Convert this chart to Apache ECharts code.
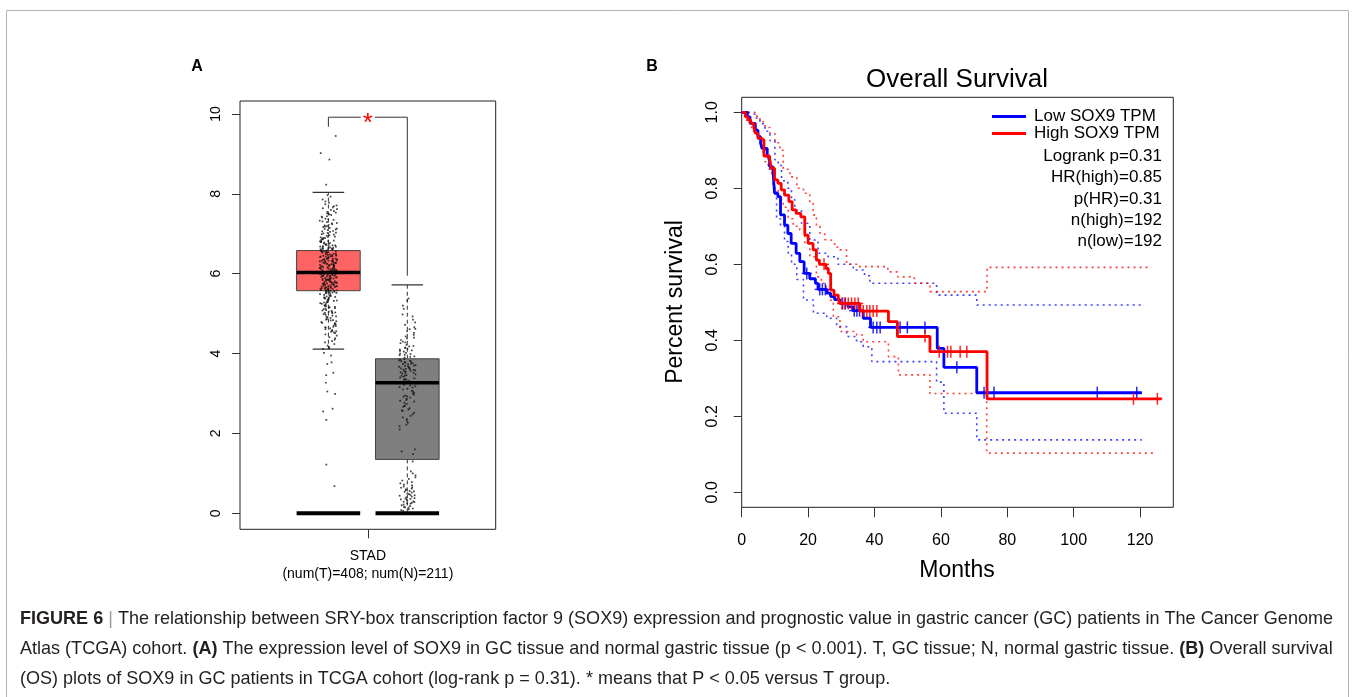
<!DOCTYPE html>
<html>
<head>
<meta charset="utf-8">
<script src="https://cdn.jsdelivr.net/npm/echarts@6/dist/echarts.min.js"></script>
<style>
  html, body { margin: 0; padding: 0; background: #fff; }
  #main { width: 1355px; height: 697px; }
</style>
</head>
<body>
<div id="main"></div>
<script>
// ---- panel A: SOX9 expression (log2(TPM+1)) ----
var groupNames = ['Tumor', 'Normal'];
var groupLabel = 'STAD\n(num(T)=408; num(N)=211)';
// low whisker, Q1, median, Q3, high whisker
var boxStats = [
  [4.11, 5.575, 6.03, 6.58, 8.04],
  [0.02, 1.35, 3.27, 3.87, 5.72]
];
var zeroLevel = [0, 0];
// left foot, bar height, right foot of the significance bracket
var bracket = [9.68, 9.92, 5.95];
var yTicksA = [0, 2, 4, 6, 8, 10];

var tumorValues = [
  9.45, 9.02, 8.86, 8.23,
  7.97, 7.93, 7.86, 7.81, 7.78, 7.71, 7.69, 7.64, 7.62, 7.57, 7.55, 7.53, 7.51, 7.6, 7.74, 7.66,
  7.49, 7.47, 7.44, 7.41, 7.38, 7.36, 7.33, 7.31, 7.29, 7.27, 7.24, 7.21, 7.19, 7.17, 7.15, 7.13,
  7.11, 7.09, 7.07, 7.05, 7.03, 7.02, 7.01, 7.26, 7.35, 7.12, 7.22, 7.06, 7.43, 7.18,
  6.99, 6.98, 6.96, 6.95, 6.93, 6.92, 6.90, 6.89, 6.87, 6.86, 6.84, 6.83, 6.81, 6.80, 6.79, 6.77,
  6.76, 6.74, 6.73, 6.72, 6.70, 6.69, 6.68, 6.67, 6.66, 6.64, 6.63, 6.62, 6.61, 6.60, 6.59, 6.58,
  6.57, 6.56, 6.55, 6.54, 6.53, 6.52, 6.51, 6.50, 6.88, 6.75, 6.71, 6.65, 6.62, 6.57, 6.53, 6.91,
  6.82, 6.78, 6.68, 6.59, 6.55, 6.64, 6.71,
  6.49, 6.48, 6.47, 6.46, 6.45, 6.44, 6.43, 6.42, 6.41, 6.40, 6.39, 6.38, 6.37, 6.36, 6.35, 6.34,
  6.33, 6.32, 6.31, 6.30, 6.29, 6.28, 6.27, 6.26, 6.25, 6.24, 6.23, 6.22, 6.21, 6.20, 6.19, 6.18,
  6.17, 6.16, 6.15, 6.14, 6.13, 6.12, 6.11, 6.10, 6.09, 6.08, 6.07, 6.06, 6.05, 6.04, 6.03, 6.02,
  6.01, 6.00, 6.46, 6.41, 6.36, 6.31, 6.27, 6.22, 6.18, 6.13, 6.08, 6.04, 6.44, 6.38, 6.33, 6.24,
  6.15, 6.06, 6.02, 6.29, 6.19, 6.11, 6.35, 6.25, 6.09, 6.43, 6.01, 6.47, 6.32, 6.21, 6.14, 6.05,
  5.99, 5.98, 5.97, 5.96, 5.95, 5.94, 5.93, 5.92, 5.91, 5.90, 5.89, 5.88, 5.87, 5.86, 5.85, 5.84,
  5.83, 5.82, 5.81, 5.80, 5.79, 5.78, 5.77, 5.76, 5.75, 5.74, 5.73, 5.72, 5.71, 5.70, 5.69, 5.68,
  5.67, 5.66, 5.65, 5.64, 5.63, 5.62, 5.61, 5.60, 5.59, 5.58, 5.57, 5.56, 5.55, 5.54, 5.53, 5.52,
  5.51, 5.50, 5.97, 5.93, 5.88, 5.84, 5.79, 5.74, 5.69, 5.64, 5.59, 5.55, 5.96, 5.91, 5.86, 5.81,
  5.77, 5.72, 5.67, 5.62, 5.58, 5.52, 5.95, 5.85, 5.75, 5.65, 5.57, 5.99, 5.89, 5.78, 5.68, 5.6,
  5.49, 5.47, 5.46, 5.44, 5.43, 5.41, 5.40, 5.38, 5.37, 5.35, 5.34, 5.32, 5.30, 5.28, 5.27, 5.25,
  5.23, 5.21, 5.19, 5.17, 5.15, 5.13, 5.11, 5.09, 5.07, 5.05, 5.03, 5.01, 5.45, 5.39, 5.33, 5.26,
  5.2, 5.14, 5.08, 5.02, 5.42, 5.29, 5.16, 5.04,
  4.99, 4.97, 4.95, 4.93, 4.91, 4.89, 4.87, 4.85, 4.83, 4.81, 4.79, 4.77, 4.75, 4.73, 4.71, 4.69,
  4.67, 4.65, 4.63, 4.61, 4.59, 4.57, 4.55, 4.53, 4.51, 4.92, 4.84, 4.76, 4.66, 4.56,
  4.48, 4.45, 4.41, 4.38, 4.35, 4.31, 4.28, 4.24, 4.2, 4.17, 4.14, 4.12,
  4.02, 3.95, 3.78, 3.74, 3.52, 3.46, 3.27, 3.05, 2.99, 2.62, 2.55, 2.34, 1.22, 0.68
];

var normalValues = [
  5.38, 5.33, 5.2, 5.12, 4.98, 4.93, 4.85, 4.78, 4.72, 4.66, 4.61, 4.56, 4.52, 4.47, 4.43, 4.38,
  4.34, 4.3, 4.26, 4.22, 4.19, 4.15, 4.12, 4.08, 4.05, 4.02, 3.99, 3.96, 3.93, 3.9, 4.4, 4.1,
  4.0, 3.92, 4.62, 4.28, 4.18, 3.97, 4.07, 4.14,
  3.86, 3.85, 3.83, 3.82, 3.8, 3.79, 3.77, 3.76, 3.74, 3.73, 3.71, 3.7, 3.68, 3.67, 3.65, 3.64,
  3.62, 3.61, 3.59, 3.58, 3.56, 3.55, 3.53, 3.52, 3.5, 3.48, 3.46, 3.44, 3.42, 3.4, 3.38, 3.36,
  3.34, 3.32, 3.3, 3.28, 3.75, 3.63, 3.57, 3.69, 3.45, 3.35, 3.81, 3.6, 3.51,
  3.25, 3.22, 3.2, 3.18, 3.15, 3.12, 3.1, 3.07, 3.05, 3.02, 3.0, 2.97, 2.95, 2.92, 2.9, 2.87,
  2.84, 2.8, 2.77, 2.74, 2.7, 2.67, 2.63, 2.6, 2.56, 2.52, 2.48, 2.44, 2.4, 2.36, 2.32, 2.27,
  2.22, 2.18, 2.1, 3.16, 2.93, 2.82, 2.68, 2.58,
  1.6, 1.55, 1.48,
  1.3, 1.05, 1.0, 0.95, 0.9, 0.86, 0.82, 0.78, 0.75, 0.72, 0.7, 0.67, 0.64, 0.62, 0.6, 0.58,
  0.56, 0.54, 0.52, 0.5, 0.48, 0.46, 0.44, 0.42, 0.4, 0.38, 0.36, 0.34, 0.32, 0.3, 0.28, 0.26,
  0.24, 0.22, 0.2, 0.18, 0.16, 0.14, 0.12, 0.1, 0.08, 0.06, 0.45, 0.35, 0.25, 0.55, 0.65, 0.15,
  0.37, 0.29
];

// ---- panel B: Kaplan-Meier overall survival ----
var xTicksB = [0, 20, 40, 60, 80, 100, 120];
var yTicksB = [0, 0.2, 0.4, 0.6, 0.8, 1.0];
// [month, survival after that month]
var lowSteps = [[0,1],[1.7,0.988],[2.5,0.971],[4.1,0.953],[4.9,0.936],[5.7,0.918],[6.1,0.905],[7.7,0.883],
  [8.4,0.857],[9.4,0.848],[9.9,0.787],[10.9,0.778],[11.7,0.73],[12.9,0.703],[13.9,0.681],[14.9,0.655],
  [16.4,0.629],[17.5,0.607],[18.8,0.576],[20.5,0.562],[22.2,0.55],[23.0,0.534],[25.6,0.524],[26.8,0.515],
  [28.0,0.507],[29.6,0.497],[32.0,0.488],[33.5,0.478],[36.6,0.458],[38.8,0.434],[58.9,0.379],[60.9,0.329],
  [70.8,0.262],[120.5,0.262]];
var highSteps = [[0,1],[1.1,0.988],[1.9,0.98],[2.7,0.971],[3.7,0.958],[4.1,0.945],[4.9,0.932],[5.9,0.927],
  [6.7,0.885],[8.4,0.879],[8.9,0.853],[9.9,0.822],[10.9,0.813],[11.9,0.796],[12.9,0.782],[14.2,0.765],
  [15.2,0.743],[16.4,0.734],[17.8,0.725],[19.0,0.677],[20.0,0.655],[21.5,0.638],[22.5,0.611],[23.4,0.6],
  [25.4,0.589],[26.1,0.576],[26.8,0.532],[27.8,0.519],[29.1,0.507],[29.6,0.497],[35.6,0.477],[44.2,0.449],
  [46.9,0.41],[56.7,0.37],[73.9,0.246],[126.5,0.246]];
var lowUpper = [[0,1],[2,0.995],[4,0.985],[5.5,0.97],[7,0.95],[8.5,0.925],[10,0.875],[11,0.86],[12,0.82],
  [13.9,0.8],[15,0.77],[16,0.743],[18,0.708],[20.5,0.664],[23,0.629],[26,0.62],[29,0.6],[33.6,0.585],
  [37,0.57],[38.6,0.55],[58.7,0.519],[70.8,0.493],[120.5,0.493]];
var lowLower = [[0,1],[2,0.975],[3.5,0.95],[5,0.92],[6.5,0.89],[8,0.85],[9.5,0.8],[10.5,0.72],[11.7,0.7],
  [12.9,0.66],[14,0.63],[15,0.6],[16.6,0.56],[18.6,0.506],[21.6,0.471],[25.6,0.458],[28.6,0.436],
  [31.6,0.41],[34.6,0.396],[36.6,0.383],[39.2,0.344],[58.7,0.29],[60.9,0.208],[70.8,0.138],[120.5,0.138]];
var highUpper = [[0,1],[2.5,1],[4,0.99],[5.5,0.975],[7,0.96],[8.5,0.945],[10,0.92],[11.5,0.9],[12.5,0.85],
  [14.5,0.83],[16.6,0.8],[18.6,0.787],[20.5,0.76],[21.5,0.73],[22.5,0.7],[23.6,0.682],[25,0.665],
  [26.6,0.66],[28,0.645],[29.6,0.638],[31.6,0.6],[35,0.594],[44,0.58],[47,0.567],[52,0.55],[56.7,0.528],
  [73.9,0.592],[123.5,0.592]];
var highLower = [[0,1],[1.5,0.975],[3,0.955],[4.5,0.935],[6,0.91],[7,0.87],[8.5,0.84],[9.5,0.8],[11,0.77],
  [12.5,0.75],[14,0.72],[15.5,0.7],[17.5,0.69],[19,0.655],[20.5,0.62],[22.5,0.567],[24,0.55],[25.5,0.53],
  [26.6,0.506],[27.6,0.462],[29.6,0.423],[34.6,0.414],[36.6,0.396],[44.2,0.357],[47.2,0.309],[56.7,0.26],
  [73.8,0.103],[125,0.103]];
// censored follow-up times (months)
var lowCensor = [19.6, 23.5, 24.3, 25.2, 30.4, 31.2, 33.9, 34.7, 35.5, 39.6, 40.7, 41.7, 47.7, 49.9, 55.2,
  64.8, 73.0, 76.0, 107.1, 119.0];
var highCensor = [24.8, 30.2, 31.1, 32.1, 33.1, 34.1, 35.1, 36.6, 37.7, 38.6, 39.6, 40.7, 55.2, 59.5, 62.0,
  63.0, 65.8, 67.8, 118.0, 125.2];
var seriesNames = ['Low SOX9 TPM', 'High SOX9 TPM'];
var statsText = ['Logrank p=0.31', 'HR(high)=0.85', 'p(HR)=0.31', 'n(high)=192', 'n(low)=192'];

var captionLines = [
  [['b', 'FIGURE 6'], ['s', ' | '], ['n', 'The relationship between SRY-box transcription factor 9 (SOX9) expression and prognostic value in gastric cancer (GC) patients in The Cancer Genome']],
  [['n', 'Atlas (TCGA) cohort. '], ['b', '(A)'], ['n', ' The expression level of SOX9 in GC tissue and normal gastric tissue (p < 0.001). T, GC tissue; N, normal gastric tissue. '], ['b', '(B)'], ['n', ' Overall survival']],
  [['n', '(OS) plots of SOX9 in GC patients in TCGA cohort (log-rank p = 0.31). * means that P < 0.05 versus T group.']]
];

var FONT = '"Liberation Sans", Arial, Helvetica, sans-serif';
var BLUE = '#0000ff', RED = '#ff0000';

function survAt(steps, t) {
  var s = steps[0][1];
  for (var i = 0; i < steps.length; i++) if (steps[i][0] <= t) s = steps[i][1];
  return s;
}
function jitter(i) {
  var f = Math.sin((i + 1) * 12.9898) * 43758.5453;
  return (f - Math.floor(f)) - 0.5;
}

var chart = echarts.init(document.getElementById('main'), null, { renderer: 'canvas' });

// caption width fitting (condensed face in the reference)
var ctx = document.createElement('canvas').getContext('2d');
var capSize = 18.5;
function fontFor(k) { return (k === 'b' ? 'bold ' : '') + capSize + 'px ' + FONT; }
function lineWidth(parts) {
  var w = 0;
  parts.forEach(function (p) { ctx.font = fontFor(p[0]); w += ctx.measureText(p[1]).width; });
  return w;
}
var capScale = 1313 / lineWidth(captionLines[0]);
var capRich = {
  b: { fontWeight: 'bold', fontSize: capSize, fontFamily: FONT, fill: '#231f20', color: '#231f20' },
  n: { fontSize: capSize, fontFamily: FONT, fill: '#231f20', color: '#231f20' },
  s: { fontSize: capSize, fontFamily: FONT, fill: '#9a9a9a', color: '#9a9a9a' }
};
var captionGraphics = captionLines.map(function (parts, i) {
  return {
    type: 'text', x: 20, y: 619 + i * 30, scaleX: capScale, originX: 0, originY: 0,
    style: {
      text: parts.map(function (p) { return '{' + p[0] + '|' + p[1] + '}'; }).join(''),
      rich: capRich, fontSize: capSize, fontFamily: FONT,
      verticalAlign: 'middle', textVerticalAlign: 'middle', align: 'left', textAlign: 'left'
    }
  };
});

function txt(x, y, text, size, opt) {
  opt = opt || {};
  return {
    type: 'text', x: x, y: y, rotation: opt.rotation || 0,
    style: {
      text: text, fontSize: size, fontFamily: FONT, fontWeight: opt.weight || 'normal',
      fill: '#000', align: opt.align || 'center', textAlign: opt.align || 'center',
      verticalAlign: opt.valign || 'middle', textVerticalAlign: opt.valign || 'middle',
      lineHeight: opt.lineHeight
    }
  };
}

var boxColors = ['#ff6464', '#7f7f7f'];
var noLine = { show: false, onZero: false };

var option = {
  animation: false,
  textStyle: { fontFamily: FONT },
  legend: {
    data: seriesNames, left: 992, top: 108, orient: 'vertical', padding: 0, itemGap: 0,
    itemWidth: 34, itemHeight: 3, icon: 'rect', selectedMode: false,
    textStyle: { fontSize: 17, color: '#000', lineHeight: 17, padding: [0, 0, 0, 3] }
  },
  grid: [
    { left: 240, top: 101, width: 255.7, height: 428.3, show: true, borderColor: '#222', borderWidth: 1,
      backgroundColor: 'transparent', outerBoundsMode: 'none' },
    { left: 741.7, top: 97.3, width: 431.6, height: 410, show: true, borderColor: '#222', borderWidth: 1,
      backgroundColor: 'transparent', outerBoundsMode: 'none' }
  ],
  xAxis: [
    { gridIndex: 0, type: 'value', min: -0.1204, max: 3.1204, position: 'bottom',
      axisLine: noLine, splitLine: { show: false },
      axisTick: { customValues: [1.5], length: 9, lineStyle: { color: '#333' } },
      axisLabel: { customValues: [1.5], formatter: function () { return groupLabel; },
        fontSize: 14, lineHeight: 18, margin: 18, color: '#000' } },
    { gridIndex: 1, type: 'value', min: 0, max: 130, position: 'bottom',
      axisLine: noLine, splitLine: { show: false },
      axisTick: { customValues: xTicksB, length: 10, lineStyle: { color: '#333' } },
      axisLabel: { customValues: xTicksB, fontSize: 16, margin: 25, color: '#000' } }
  ],
  yAxis: [
    { gridIndex: 0, type: 'value', min: -0.4007, max: 10.326, position: 'left',
      axisLine: noLine, splitLine: { show: false },
      axisTick: { show: true, customValues: yTicksA, length: 8, lineStyle: { color: '#333' } },
      axisLabel: { customValues: yTicksA, rotate: 90, fontSize: 14, margin: 17, color: '#000' } },
    { gridIndex: 1, type: 'value', min: -0.0395, max: 1.0395, position: 'left',
      axisLine: noLine, splitLine: { show: false },
      axisTick: { show: true, customValues: yTicksB, length: 8, lineStyle: { color: '#333' } },
      axisLabel: { customValues: yTicksB, rotate: 90, fontSize: 16, margin: 21, color: '#000',
        formatter: function (v) { return Number(v).toFixed(1); } } }
  ],
  graphic: [
    { type: 'rect', shape: { x: 6.5, y: 10.5, width: 1342, height: 720 },
      style: { fill: 'none', stroke: '#b4b4b4', lineWidth: 1 }, silent: true },
    txt(197, 67, 'A', 16, { weight: 'bold' }),
    txt(652, 67, 'B', 16, { weight: 'bold' }),
    txt(957, 80, 'Overall Survival', 26),
    txt(676, 302, 'Percent survival', 23, { rotation: Math.PI / 2 }),
    txt(957, 571, 'Months', 23),
    txt(1162, 145.5, statsText.join('\n'), 17, { align: 'right', valign: 'top', lineHeight: 21.4 })
  ].concat(captionGraphics),
  series: [
    // boxes with dashed whiskers and caps
    { type: 'custom', xAxisIndex: 0, yAxisIndex: 0, z: 2,
      data: boxStats.map(function (s, i) { return [i + 1].concat(s); }),
      renderItem: function (params, api) {
        var x = api.value(0);
        var lo = api.coord([x, api.value(1)]), q1 = api.coord([x, api.value(2)]);
        var md = api.coord([x, api.value(3)]), q3 = api.coord([x, api.value(4)]);
        var hi = api.coord([x, api.value(5)]);
        var hw = api.size([0.403, 0])[0], cw = api.size([0.2, 0])[0];
        var cx = md[0];
        var dash = { stroke: '#333', lineWidth: 1, lineDash: [4, 3] };
        var solid = { stroke: '#333', lineWidth: 1.2 };
        return { type: 'group', children: [
          { type: 'line', shape: { x1: cx, y1: q3[1], x2: cx, y2: hi[1] }, style: dash },
          { type: 'line', shape: { x1: cx, y1: q1[1], x2: cx, y2: lo[1] }, style: dash },
          { type: 'line', shape: { x1: cx - cw, y1: hi[1], x2: cx + cw, y2: hi[1] }, style: solid },
          { type: 'line', shape: { x1: cx - cw, y1: lo[1], x2: cx + cw, y2: lo[1] }, style: solid },
          { type: 'rect', shape: { x: cx - hw, y: q3[1], width: 2 * hw, height: q1[1] - q3[1] },
            style: { fill: boxColors[params.dataIndex], stroke: '#444', lineWidth: 1 } }
        ] };
      } },
    // jittered samples
    { type: 'scatter', xAxisIndex: 0, yAxisIndex: 0, z: 3, symbol: 'rect', symbolSize: 1.7,
      itemStyle: { color: '#111' }, silent: true,
      data: tumorValues.map(function (v, i) { return [1 + jitter(i) * 0.22, v]; })
        .concat(normalValues.map(function (v, i) { return [2 + jitter(i + 500) * 0.21, v]; })) },
    // medians and zero level bars
    { type: 'custom', xAxisIndex: 0, yAxisIndex: 0, z: 4,
      data: boxStats.map(function (s, i) { return [i + 1, s[2], zeroLevel[i]]; }),
      renderItem: function (params, api) {
        var x = api.value(0);
        var md = api.coord([x, api.value(1)]), zr = api.coord([x, api.value(2)]);
        var hw = api.size([0.403, 0])[0];
        return { type: 'group', children: [
          { type: 'line', shape: { x1: md[0] - hw, y1: md[1], x2: md[0] + hw, y2: md[1] },
            style: { stroke: '#000', lineWidth: 3.5 } },
          { type: 'line', shape: { x1: zr[0] - hw, y1: zr[1], x2: zr[0] + hw, y2: zr[1] },
            style: { stroke: '#000', lineWidth: 4 } }
        ] };
      } },
    // significance bracket
    { type: 'custom', xAxisIndex: 0, yAxisIndex: 0, z: 4,
      data: [[1, 2].concat(bracket)],
      renderItem: function (params, api) {
        var a = api.coord([api.value(0), api.value(2)]);
        var t1 = api.coord([api.value(0), api.value(3)]);
        var t2 = api.coord([api.value(1), api.value(3)]);
        var b = api.coord([api.value(1), api.value(4)]);
        var mid = (t1[0] + t2[0]) / 2;
        var st = { stroke: '#333', lineWidth: 1, fill: 'none' };
        return { type: 'group', children: [
          { type: 'polyline', shape: { points: [a, t1, [mid - 7, t1[1]]] }, style: st },
          { type: 'polyline', shape: { points: [[mid + 7, t2[1]], t2, b] }, style: st },
          { type: 'text', x: mid, y: t1[1] + 7,
            style: { text: '*', fontSize: 26, fontFamily: FONT, fill: '#ff0000',
              align: 'center', verticalAlign: 'middle', textAlign: 'center', textVerticalAlign: 'middle' } }
        ] };
      } },
    // KM confidence bands
    { name: 'lowUpper', type: 'line', xAxisIndex: 1, yAxisIndex: 1, step: 'end', symbol: 'none', data: lowUpper,
      lineStyle: { color: BLUE, width: 1.6, type: [2, 4], opacity: 0.75 }, silent: true, z: 2 },
    { name: 'lowLower', type: 'line', xAxisIndex: 1, yAxisIndex: 1, step: 'end', symbol: 'none', data: lowLower,
      lineStyle: { color: BLUE, width: 1.6, type: [2, 4], opacity: 0.75 }, silent: true, z: 2 },
    { name: 'highUpper', type: 'line', xAxisIndex: 1, yAxisIndex: 1, step: 'end', symbol: 'none', data: highUpper,
      lineStyle: { color: RED, width: 1.6, type: [2, 4], opacity: 0.75 }, silent: true, z: 2 },
    { name: 'highLower', type: 'line', xAxisIndex: 1, yAxisIndex: 1, step: 'end', symbol: 'none', data: highLower,
      lineStyle: { color: RED, width: 1.6, type: [2, 4], opacity: 0.75 }, silent: true, z: 2 },
    // KM curves
    { name: seriesNames[0], type: 'line', xAxisIndex: 1, yAxisIndex: 1, step: 'end', symbol: 'none',
      data: lowSteps, itemStyle: { color: BLUE }, lineStyle: { color: BLUE, width: 2.8 }, silent: true, z: 3 },
    { name: seriesNames[1], type: 'line', xAxisIndex: 1, yAxisIndex: 1, step: 'end', symbol: 'none',
      data: highSteps, itemStyle: { color: RED }, lineStyle: { color: RED, width: 2.8 }, silent: true, z: 4 },
    // censor marks
    { type: 'custom', xAxisIndex: 1, yAxisIndex: 1, z: 3,
      data: lowCensor.map(function (t) { return [t, survAt(lowSteps, t)]; }),
      renderItem: function (params, api) { return plus(api, BLUE); } },
    { type: 'custom', xAxisIndex: 1, yAxisIndex: 1, z: 4,
      data: highCensor.map(function (t) { return [t, survAt(highSteps, t)]; }),
      renderItem: function (params, api) { return plus(api, RED); } }
  ]
};

function plus(api, color) {
  var c = api.coord([api.value(0), api.value(1)]);
  var st = { stroke: color, lineWidth: 1.5, opacity: 0.85 };
  return { type: 'group', children: [
    { type: 'line', shape: { x1: c[0], y1: c[1] - 6, x2: c[0], y2: c[1] + 6 }, style: st },
    { type: 'line', shape: { x1: c[0] - 5, y1: c[1], x2: c[0] + 5, y2: c[1] }, style: st }
  ] };
}

chart.setOption(option);
</script>
</body>
</html>
